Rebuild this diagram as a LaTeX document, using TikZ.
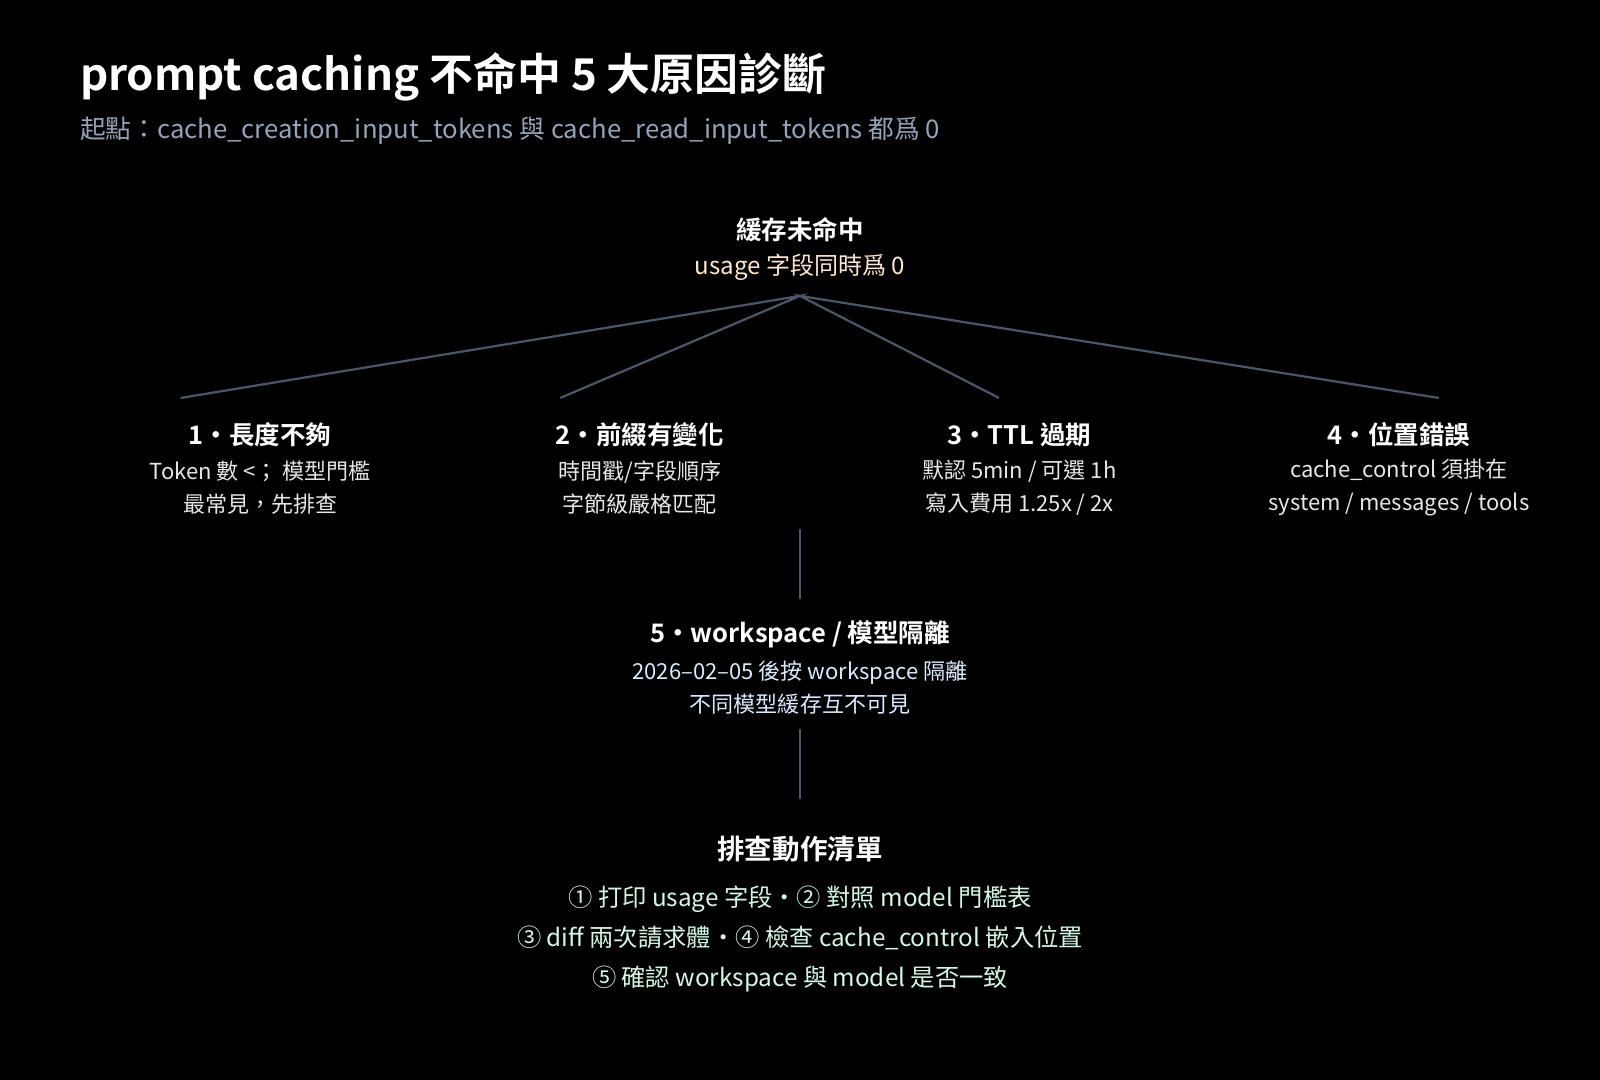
\documentclass[tikz,border=0pt]{standalone}
\usepackage{fontspec}
\setmainfont{Noto Sans CJK TC}
\newfontfamily\bfcjk{Noto Sans CJK TC Bold}
\begin{document}
\begin{tikzpicture}[x=0.5pt,y=-0.5pt,
  every node/.style={inner sep=0pt,align=center},
  ttl/.style={font=\bfcjk\fontsize{12.5pt}{15pt}\selectfont,text=white},
  body/.style={font=\fontsize{10.8pt}{16pt}\selectfont,text=#1},
  conn/.style={draw=lineC,line width=1.1pt}]
\definecolor{bg}{HTML}{000000}
\definecolor{lineC}{HTML}{4B5567}
\definecolor{subC}{HTML}{94A3B8}
\definecolor{peach}{HTML}{FDE6CC}
\definecolor{wC}{HTML}{E5E7EB}
\definecolor{bC}{HTML}{DBEAFE}
\definecolor{gC}{HTML}{D1FAE5}
\fill[bg] (0,0) rectangle (1568,1058.4);
\useasboundingbox (0,0) rectangle (1568,1058.4);
\node[anchor=west,text=white,font=\bfcjk\fontsize{21.5pt}{24pt}\selectfont] (title) at (78,75) {prompt caching 不命中 5 大原因診斷};
\node[anchor=west,text=subC,font=\fontsize{12.6pt}{14pt}\selectfont] (sub) at (78,128) {起點：cache\_creation\_input\_tokens 與 cache\_read\_input\_tokens 都爲 0};
% root
\node[ttl] (rt) at (784,225) {緩存未命中};
\node[body=peach,font=\fontsize{11.8pt}{14pt}\selectfont] (rs) at (784,262) {usage 字段同時爲 0};
\coordinate (rp) at (784,290);
\coordinate (e1) at (177,390);
\coordinate (e2) at (549,390);
\coordinate (e3) at (979,390);
\coordinate (e4) at (1410,390);
\draw[conn] (e1) -- (rp) -- (e2);
\draw[conn] (e3) -- (rp) -- (e4);
% four causes
\node[ttl] (t1) at (255,426) {1·長度不夠};
\node[body=wC] (b1) at (255,478) {Token 數 <；\ 模型門檻\\最常見，先排查};
\node[ttl] (t2) at (627,426) {2·前綴有變化};
\node[body=wC] (b2) at (627,478) {時間戳/字段順序\\字節級嚴格匹配};
\node[ttl] (t3) at (999,426) {3·TTL 過期};
\node[body=wC] (b3) at (999,478) {默認 5min / 可選 1h\\寫入費用 1.25x / 2x};
\node[ttl] (t4) at (1371,426) {4·位置錯誤};
\node[body=wC] (b4) at (1371,478) {cache\_control 須掛在\\system / messages / tools};
\coordinate (v1a) at (784,518);
\coordinate (v1b) at (784,587);
\draw[conn] (v1a) -- (v1b);
\node[ttl] (t5) at (784,622) {5·workspace / 模型隔離};
\node[body=bC] (b5) at (784,674) {2026–02–05 後按 workspace 隔離\\不同模型緩存互不可見};
\coordinate (v2a) at (784,714);
\coordinate (v2b) at (784,783);
\draw[conn] (v2a) -- (v2b);
\node[ttl,font=\bfcjk\fontsize{13.5pt}{16pt}\selectfont] (ct) at (784,832) {排查動作清單};
\node[body=gC,font=\fontsize{11.9pt}{19.5pt}\selectfont] (cl) at (784,920) {① 打印 usage 字段·② 對照 model 門檻表\\③ diff 兩次請求體·④ 檢查 cache\_control 嵌入位置\\⑤ 確認 workspace 與 model 是否一致};
\end{tikzpicture}
\end{document}
